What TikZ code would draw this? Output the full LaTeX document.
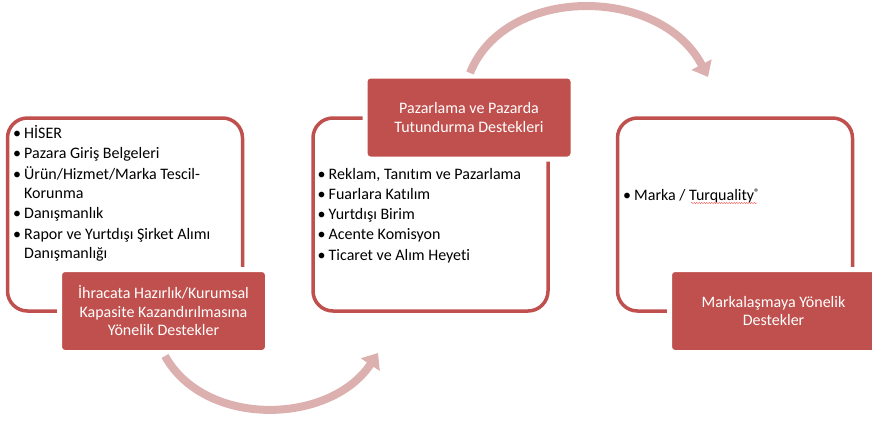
\documentclass[tikz,border=0pt]{standalone}
\usepackage{fontspec}
\setmainfont{Carlito}[Ligatures=NoCommon]
\usetikzlibrary{arrows.meta,decorations.pathmorphing}
\definecolor{boxred}{RGB}{192,80,77}
\definecolor{arrowpink}{RGB}{220,176,175}
\newcommand{\bulletitem}{\makebox[11pt][l]{\textbullet}}
\newcommand{\bulletcont}{\hspace*{11pt}}
\newcommand{\regmark}{\raisebox{4pt}{\fontsize{11}{11}\selectfont ®}}
\begin{document}
\begin{tikzpicture}[
    x=1pt, y=-1pt,
    outlinebox/.style={draw=boxred, line width=3.5pt, rounded corners=20pt,
        minimum width=235pt, minimum height=193pt, inner sep=0pt},
    labelbox/.style={fill=boxred, draw=white, line width=5pt, rounded corners=5pt,
        minimum width=208pt, minimum height=83pt, text=white, align=center,
        font=\fontsize{16}{18.5}\selectfont},
    listtext/.style={anchor=base west, align=left, inner sep=0pt},
    cyclearrow/.style={draw=arrowpink, line width=8pt,
        -{Triangle[length=14pt,width=22pt]}}
]
\useasboundingbox (0,0) rectangle (872,423);

% outlines
\node[outlinebox] (hazirlikbox) at (125,214.5) {};
\node[outlinebox] (pazarlamabox) at (430.5,214.5) {};
\node[outlinebox] (markabox) at (735,214.5) {};

% item lists (base = last line)
\node[listtext, font=\fontsize{16}{19}\selectfont] (hazirliklist) at (13,258.3) {%
    \bulletitem HİSER\\[1.5pt]
    \bulletitem Pazara Giriş Belgeleri\\[1.5pt]
    \bulletitem Ürün/Hizmet/Marka Tescil-\\
    \bulletcont Korunma\\[1.5pt]
    \bulletitem Danışmanlık\\[1.5pt]
    \bulletitem Rapor ve Yurtdışı Şirket Alımı\\
    \bulletcont Danışmanlığı};
\node[listtext, font=\fontsize{16}{20.25}\selectfont] (pazarlamalist) at (317.5,260) {%
    \bulletitem Reklam, Tanıtım ve Pazarlama\\
    \bulletitem Fuarlara Katılım\\
    \bulletitem Yurtdışı Birim\\
    \bulletitem Acente Komisyon\\
    \bulletitem Ticaret ve Alım Heyeti};
\node[listtext, font=\fontsize{16}{18}\selectfont] (markalist) at (623,200.5) {%
    \bulletitem Marka / Turquality\regmark};

% spelling mark
\coordinate (spellstart) at (691,203);
\coordinate (spellend) at (757,203);
\draw[red!70, line width=0.4pt, decorate,
    decoration={snake, amplitude=0.6pt, segment length=2.5pt}] (spellstart) -- (spellend);

% labels
\node[labelbox] (hazirlik) at (163.5,311) {İhracata Hazırlık/Kurumsal\\Kapasite Kazandırılmasına\\Yönelik Destekler};
\node[labelbox] (pazarlama) at (469,117.5) {Pazarlama ve Pazarda\\Tutundurma Destekleri};
\node[labelbox] (marka) at (773.5,311) {Markalaşmaya Yönelik\\Destekler};

% arrows
\coordinate (lowstart) at (165,356);
\coordinate (lowend) at (378,353);
\coordinate (highstart) at (470,73);
\coordinate (highend) at (708,77);
\draw[cyclearrow] (lowstart) .. controls (205,428) and (330,425) .. (lowend);
\draw[cyclearrow] (highstart) .. controls (505,-15) and (660,-15) .. (highend);
\end{tikzpicture}
\end{document}
